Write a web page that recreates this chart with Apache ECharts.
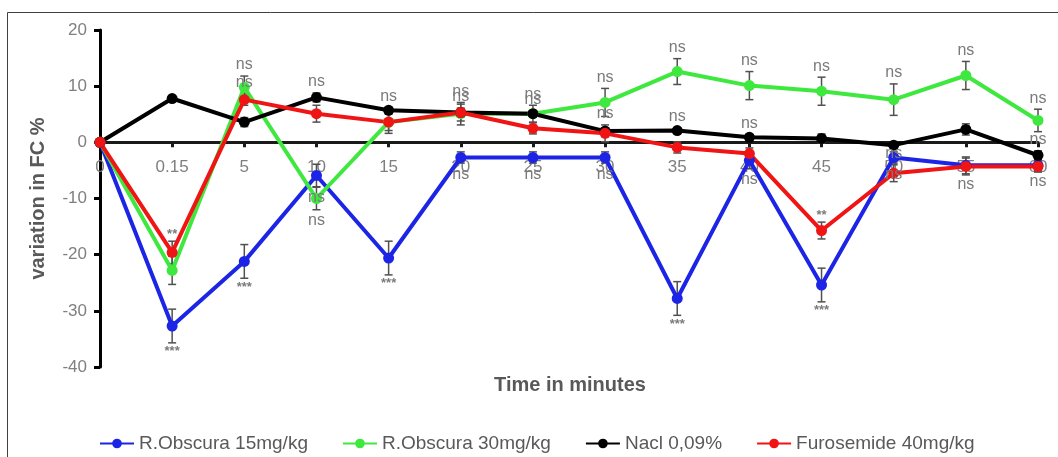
<!DOCTYPE html>
<html>
<head>
<meta charset="utf-8">
<script src="https://cdn.jsdelivr.net/npm/echarts@6/dist/echarts.min.js"></script>
<style>
html,body{margin:0;padding:0;background:#fff;}
#chart{width:1058px;height:457px;}
</style>
</head>
<body>
<div id="chart"></div>
<script>
const categories = ['0','0.15','5','10','15','20','25','30','35','40','45','50','55','60'];
const seriesNames = ['R.Obscura 15mg/kg','R.Obscura 30mg/kg','Nacl 0,09%','Furosemide 40mg/kg'];

const blue  = [0, -32.7, -21.2, -5.9, -20.6, -2.7, -2.7, -2.7, -27.8, -3.2, -25.4, -2.7, -4.1, -4.1];
const green = [0, -22.8, 9.8, -10, 3.6, 5.1, 5.1, 7.1, 12.6, 10.1, 9.1, 7.6, 11.9, 3.9];
const black = [0, 7.8, 3.6, 8.0, 5.7, 5.3, 5.1, 2.0, 2.1, 0.9, 0.7, -0.5, 2.3, -2.3];
const red   = [0, -19.6, 7.6, 5.1, 3.6, 5.3, 2.5, 1.6, -0.9, -2.0, -15.7, -5.5, -4.3, -4.3];

const blueErr  = [0, 3, 3, 2, 3, 1, 1, 1, 3, 1.5, 3, 1, 1.5, 1];
const greenErr = [0, 2.5, 2, 2, 2, 2, 1.5, 2.5, 2.3, 2.5, 2.5, 2.8, 2.5, 2];
const blackErr = [0, 0.5, 0.8, 0.8, 0.5, 0.8, 0.5, 0.5, 0.5, 0.5, 0.8, 0.5, 1, 0.8];
const redErr   = [0, 2, 1, 1.5, 1.5, 1.5, 1, 1.5, 1, 1, 1.5, 1.5, 1.5, 1];

const blueSig  = ['', '***', '***', 'ns', '***', 'ns', 'ns', 'ns', '***', 'ns', '***', 'ns', 'ns', 'ns'];
const greenSig = ['', '', 'ns', 'ns', '', 'ns', 'ns', 'ns', 'ns', 'ns', 'ns', 'ns', 'ns', 'ns'];
const blackSig = ['', '', '', 'ns', 'ns', 'ns', 'ns', '', 'ns', 'ns', '', '', '', 'ns'];
const redSig   = ['', '**', 'ns', '', '', '', '', 'ns', '', '', '**', 'ns', '', ''];

const yMin = -40, yMax = 20, yInterval = 10;

const colors = ['#1c24e6', '#3ee83e', '#000000', '#f01414'];
const values = [blue, green, black, red];
const errors = [blueErr, greenErr, blackErr, redErr];
const sigs = [blueSig, greenSig, blackSig, redSig];
// label placement: blue below, green by sign, black & red above
function labelBelow(si, v) {
  if (si === 0) return true;
  if (si === 1) return v < 0;
  return false;
}

const GRID_TOP = 30, GRID_BOTTOM = 90, H = 457;
// pixel offset to move the x axis up to the zero line
const plotH = H - GRID_TOP - GRID_BOTTOM;
const zeroOffset = -plotH * (0 - yMin) / (yMax - yMin);

const FONT = '"Liberation Sans", Arial, sans-serif';
const lineSeries = values.map((vals, i) => ({
  name: seriesNames[i],
  type: 'line',
  data: vals,
  symbol: 'circle',
  symbolSize: 11,
  z: 3,
  lineStyle: {width: 4, color: colors[i]},
  itemStyle: {color: colors[i]},
  emphasis: {disabled: true},
  animation: false
}));

const errData = [];
values.forEach((vals, si) => {
  vals.forEach((v, xi) => {
    errData.push([xi, v, errors[si][xi], si, sigs[si][xi]]);
  });
});

const errSeries = {
  type: 'custom',
  z: 2,
  silent: true,
  animation: false,
  data: errData,
  renderItem: function (params, api) {
    const xi = api.value(0), v = api.value(1), e = api.value(2);
    if (!e) return null;
    const top = api.coord([xi, v + e]);
    const bot = api.coord([xi, v - e]);
    const hw = 4;
    const st = {stroke: '#505050', lineWidth: 1.5};
    return {
      type: 'group',
      children: [
        {type: 'line', shape: {x1: top[0], y1: top[1], x2: bot[0], y2: bot[1]}, style: st},
        {type: 'line', shape: {x1: top[0]-hw, y1: top[1], x2: top[0]+hw, y2: top[1]}, style: st},
        {type: 'line', shape: {x1: bot[0]-hw, y1: bot[1], x2: bot[0]+hw, y2: bot[1]}, style: st}
      ]
    };
  },
  encode: {x: 0, y: 1}
};

const labelSeries = {
  type: 'custom',
  z: 6,
  silent: true,
  animation: false,
  data: errData,
  renderItem: function (params, api) {
    const item = errData[params.dataIndex];
    const xi = item[0], v = item[1], e = item[2], si = item[3], txt = item[4];
    if (!txt) return null;
    const below = labelBelow(si, v);
    let p;
    if (below) {
      p = api.coord([xi, v - e]);
      p = [p[0], p[1] + (txt === 'ns' ? 11 : 9)];
    } else {
      p = api.coord([xi, v + e]);
      p = [p[0], p[1] - (txt === 'ns' ? 11 : 7)];
    }
    return {
      type: 'text',
      style: {
        text: txt, x: p[0], y: p[1],
        align: 'center', verticalAlign: 'middle',
        fill: '#7a7a7a',
        font: (txt === 'ns' ? '16px ' : 'bold 13px ') + FONT
      }
    };
  },
  encode: {x: 0, y: 1}
};

const chart = echarts.init(document.getElementById('chart'), null, {renderer: 'canvas'});
chart.setOption({
  backgroundColor: '#ffffff',
  animation: false,
  textStyle: {fontFamily: FONT},
  grid: {left: 100, right: 20, top: GRID_TOP, bottom: GRID_BOTTOM, containLabel: false},
  legend: {
    data: seriesNames,
    left: 94,
    top: 429,
    itemGap: 34,
    itemWidth: 34,
    itemHeight: 12,
    textStyle: {fontSize: 19, color: '#595959', fontFamily: FONT}
  },
  xAxis: {
    type: 'category',
    data: categories,
    boundaryGap: false,
    offset: zeroOffset,
    axisLine: {onZero: false, lineStyle: {color: '#1a1a1a', width: 3}},
    axisTick: {show: true, length: 5, lineStyle: {color: '#1a1a1a', width: 3}},
    axisLabel: {color: '#7f7f7f', fontSize: 17, margin: 16, fontFamily: FONT},
    splitLine: {show: false}
  },
  yAxis: {
    type: 'value',
    min: yMin, max: yMax, interval: yInterval,
    axisLine: {show: true, lineStyle: {color: '#000', width: 3}},
    axisTick: {show: true, length: 6, lineStyle: {color: '#000', width: 3}},
    axisLabel: {color: '#7f7f7f', fontSize: 17, margin: 13, fontFamily: FONT},
    splitLine: {show: false},
    name: 'variation in FC %',
    nameLocation: 'middle',
    nameGap: 52,
    nameTextStyle: {fontSize: 20, fontWeight: 'bold', color: '#595959', fontFamily: FONT}
  },
  graphic: [
    {type: 'rect', silent: true, shape: {x: 7.5, y: 12.5, width: 1070, height: 470},
     style: {fill: 'none', stroke: '#404040', lineWidth: 1}},
    {type: 'text', silent: true, x: 570, y: 385,
     style: {text: 'Time in minutes', font: 'bold 20px ' + FONT, fill: '#595959', align: 'center', verticalAlign: 'middle'}}
  ],
  series: [errSeries].concat(lineSeries).concat([labelSeries])
});
</script>
</body>
</html>
